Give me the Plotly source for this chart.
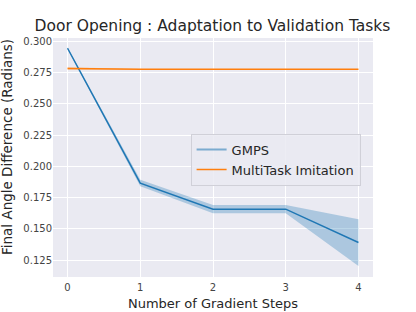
import plotly.graph_objects as go

steps = [0, 1, 2, 3, 4]
gmps_mean = [0.2945, 0.1865, 0.1657, 0.1657, 0.1390]
gmps_lower = [0.2938, 0.1840, 0.1625, 0.1625, 0.1203]
gmps_upper = [0.2952, 0.1892, 0.1690, 0.1690, 0.1577]
mt_mean = [0.2782, 0.2776, 0.2776, 0.2776, 0.2776]
mt_lower = [0.2772, 0.2774, 0.2774, 0.2774, 0.2774]
mt_upper = [0.2792, 0.2778, 0.2778, 0.2778, 0.2778]

x_ticks = [0, 1, 2, 3, 4]
y_ticks = [0.125, 0.150, 0.175, 0.200, 0.225, 0.250, 0.275, 0.300]

BLUE = "#1f77b4"
ORANGE = "#ff7f0e"
FONT = "DejaVu Sans"

fig = go.Figure()
fig.add_trace(go.Scatter(x=steps, y=gmps_upper, mode="lines", line=dict(width=0),
                         showlegend=False, hoverinfo="skip"))
fig.add_trace(go.Scatter(x=steps, y=gmps_lower, mode="lines", line=dict(width=0),
                         fill="tonexty", fillcolor="rgba(31,119,180,0.3)",
                         showlegend=False, hoverinfo="skip"))
fig.add_trace(go.Scatter(x=steps, y=mt_upper, mode="lines", line=dict(width=0),
                         showlegend=False, hoverinfo="skip"))
fig.add_trace(go.Scatter(x=steps, y=mt_lower, mode="lines", line=dict(width=0),
                         fill="tonexty", fillcolor="rgba(255,127,14,0.3)",
                         showlegend=False, hoverinfo="skip"))
fig.add_trace(go.Scatter(x=steps, y=gmps_mean, mode="lines", name="GMPS",
                         showlegend=False, line=dict(color=BLUE, width=1.5)))
# legend entry for GMPS (lighter line as in reference legend)
fig.add_trace(go.Scatter(x=[None], y=[None], mode="lines", name="GMPS",
                         line=dict(color="rgba(31,119,180,0.55)", width=2)))
fig.add_trace(go.Scatter(x=steps, y=mt_mean, mode="lines", name="MultiTask Imitation",
                         line=dict(color=ORANGE, width=1.5)))

fig.update_layout(
    width=416, height=312,
    margin=dict(l=53, r=43, t=38, b=35),
    paper_bgcolor="white",
    plot_bgcolor="#EAEAF2",
    font=dict(family=FONT, color="#262626"),
    title=dict(text="Door Opening : Adaptation to Validation Tasks",
               x=(52 + 373) / 2 / 416, xanchor="center",
               y=1 - 26 / 312, yref="container", yanchor="middle",
               font=dict(size=15.5, family=FONT, color="#262626")),
    legend=dict(x=0.43, y=0.60, xanchor="left", yanchor="top",
                traceorder="normal",
                bgcolor="rgba(234,234,242,0.85)", bordercolor="#d0d0d8", borderwidth=1,
                font=dict(size=13, family=FONT, color="#262626"),
                itemwidth=30, tracegroupgap=0),
    showlegend=True,
    annotations=[dict(text="Final Angle Difference (Radians)", textangle=-90,
                      xref="paper", yref="paper",
                      x=-(53 - 7) / 320, y=(277 - 147) / 239,
                      xanchor="center", yanchor="middle", showarrow=False,
                      font=dict(size=13.5, family=FONT, color="#262626"))],
)
fig.update_xaxes(range=[-0.2, 4.2], tickvals=x_ticks, showgrid=True, gridcolor="white",
                 gridwidth=1, zeroline=False, showline=False, automargin=False,
                 ticklabelstandoff=3,
                 tickfont=dict(size=10, color="#444"),
                 title=dict(text="Number of Gradient Steps", font=dict(size=13), standoff=6))
fig.update_yaxes(range=[0.1114, 0.3027], tickvals=y_ticks, tickformat=".3f",
                 showgrid=True, gridcolor="white", gridwidth=1, zeroline=False,
                 showline=False, automargin=False, tickfont=dict(size=10, color="#444"))

fig.write_html("out.html", post_script="document.body.style.margin='0';",
               config={"displayModeBar": False})
